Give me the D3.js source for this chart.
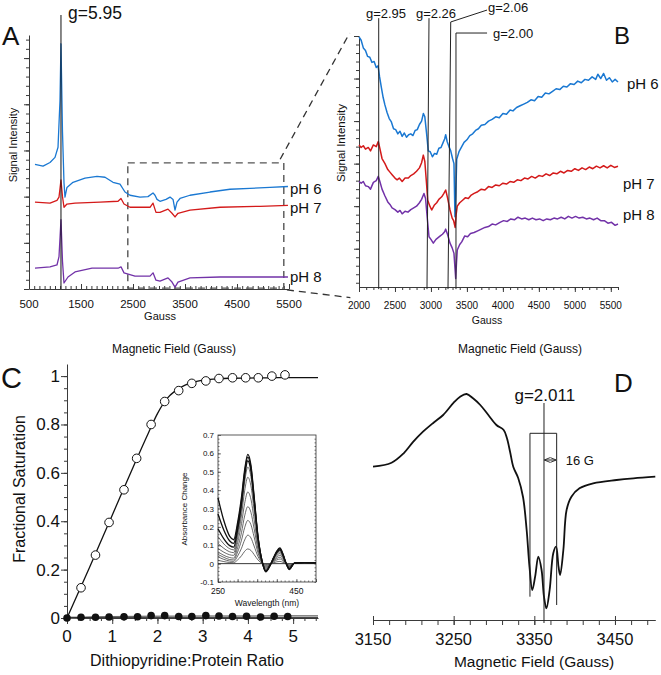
<!DOCTYPE html>
<html><head><meta charset="utf-8">
<script src="https://cdn.jsdelivr.net/npm/d3@7"></script>
<style>body{margin:0;background:#fff} svg{display:block}</style>
</head><body><svg id="chart" width="661" height="675"></svg>
<script>
// ================= DATA =================
// Panel A: EPR spectra, full sweep (Gauss, arbitrary signal units)
const A_field_pH6 = [615,770,904,1000,1058,1096,1115,1144,1173,1192,1230,1346,1577,1808,1962,2115,2250,2346,2442,2635,2788,2885,2923,2962,3019,3135,3212,3270,3308,3346,3404,3596,3981,4365,4750,5135,5480];
const A_sig_pH6   = [2.70,2.66,2.74,2.85,3.07,4.08,5.31,3.4,2.3,1.99,2.2,2.31,2.40,2.44,2.42,2.31,2.27,2.1,2.03,1.99,2.0,2.08,2.03,1.94,1.90,1.94,1.99,1.94,1.71,1.88,1.96,2.03,2.10,2.16,2.18,2.2,2.22];
const A_field_pH7 = [615,904,1038,1077,1115,1144,1173,1230,1385,1865,2212,2269,2327,2442,2827,2885,2942,3019,3173,3250,3308,3365,3596,4173,4942,5480];
const A_sig_pH7   = [1.88,1.86,1.92,1.99,2.36,2.0,1.77,1.84,1.86,1.88,1.90,1.96,1.84,1.77,1.77,1.86,1.66,1.66,1.73,1.64,1.56,1.64,1.71,1.77,1.79,1.81];
const A_field_pH8 = [615,904,1038,1077,1115,1144,1173,1250,1385,1712,2212,2269,2327,2538,2827,2885,2942,3019,3173,3250,3308,3365,3596,4173,4942,5480];
const A_sig_pH8   = [0.45,0.48,0.52,0.70,1.50,0.6,0.13,0.26,0.37,0.45,0.45,0.48,0.35,0.28,0.28,0.35,0.19,0.17,0.24,0.15,0.04,0.15,0.24,0.26,0.26,0.26];
const A_xticks = [500,1500,2500,3500,4500,5500];

// Panel B: expanded region, [Gauss, signal] readings
const B_pH6 = [[2000,4.98],[2030,4.90],[2060,4.72],[2090,4.66],[2120,4.52],[2150,4.50],[2180,4.38],[2210,4.40],[2240,4.26],[2265,4.30],[2285,4.05],[2310,3.80],[2335,3.56],[2360,3.38],[2390,3.20],[2420,3.06],[2450,2.98],[2480,2.82],[2510,2.80],[2540,2.70],[2570,2.76],[2600,2.64],[2630,2.72],[2660,2.62],[2690,2.68],[2720,2.70],[2750,2.66],[2780,2.78],[2810,2.80],[2840,2.92],[2870,3.00],[2895,3.18],[2915,3.10],[2940,2.70],[2963,2.30],[2990,2.28],[3020,2.16],[3050,2.24],[3080,2.22],[3110,2.36],[3140,2.38],[3170,2.50],[3190,2.58],[3205,2.68],[3225,2.52],[3250,2.40],[3275,2.30],[3300,2.12],[3320,2.00],[3334,0.75],[3345,1.25],[3358,2.10],[3390,2.28],[3428,2.40],[3460,2.50],[3500,2.56],[3540,2.66],[3580,2.70],[3620,2.78],[3660,2.82],[3700,2.90],[3750,2.92],[3800,3.00],[3850,3.04],[3900,3.10],[3950,3.08],[4000,3.18],[4050,3.16],[4100,3.26],[4140,3.24],[4190,3.32],[4240,3.36],[4290,3.40],[4340,3.44],[4390,3.50],[4440,3.48],[4490,3.58],[4540,3.56],[4590,3.66],[4640,3.64],[4690,3.70],[4740,3.76],[4790,3.74],[4840,3.82],[4890,3.80],[4940,3.88],[4990,3.86],[5040,3.94],[5090,3.90],[5140,3.98],[5190,3.96],[5240,4.04],[5290,3.98],[5320,4.10],[5360,4.00],[5400,4.12],[5440,3.96],[5480,4.02],[5520,3.92],[5560,3.98],[5600,3.92]];
const B_pH7 = [[2000,2.44],[2030,2.38],[2060,2.42],[2090,2.34],[2129,2.38],[2160,2.30],[2200,2.44],[2240,2.40],[2268,2.52],[2290,2.36],[2320,2.12],[2361,2.00],[2400,1.86],[2430,1.80],[2460,1.74],[2500,1.66],[2530,1.62],[2560,1.66],[2600,1.58],[2640,1.66],[2686,1.66],[2720,1.72],[2760,1.76],[2800,1.82],[2840,1.90],[2870,2.02],[2894,2.20],[2915,2.05],[2940,1.50],[2955,1.14],[2985,1.00],[3011,0.91],[3045,1.02],[3080,1.08],[3110,1.16],[3150,1.22],[3180,1.30],[3205,1.38],[3230,1.20],[3265,0.91],[3295,0.72],[3315,0.66],[3336,0.50],[3350,0.80],[3366,1.00],[3400,1.08],[3440,1.14],[3480,1.20],[3520,1.18],[3560,1.26],[3600,1.30],[3650,1.34],[3700,1.40],[3750,1.38],[3800,1.46],[3850,1.44],[3900,1.50],[3950,1.48],[4000,1.54],[4050,1.52],[4100,1.58],[4150,1.56],[4200,1.62],[4250,1.60],[4300,1.66],[4350,1.64],[4400,1.70],[4450,1.66],[4500,1.72],[4550,1.70],[4600,1.76],[4650,1.72],[4700,1.78],[4750,1.76],[4800,1.82],[4850,1.78],[4900,1.84],[4950,1.82],[5000,1.88],[5050,1.84],[5100,1.90],[5150,1.86],[5200,1.92],[5250,1.88],[5300,1.94],[5350,1.90],[5400,1.95],[5450,1.90],[5500,1.96],[5550,1.91],[5600,1.94]];
const B_pH8 = [[2000,1.58],[2030,1.54],[2060,1.58],[2090,1.48],[2129,1.46],[2160,1.40],[2200,1.56],[2240,1.60],[2268,1.70],[2290,1.58],[2320,1.40],[2361,1.24],[2400,1.10],[2430,1.04],[2460,0.96],[2500,0.92],[2540,0.86],[2570,0.90],[2600,0.82],[2640,0.88],[2680,0.86],[2720,0.92],[2760,0.96],[2800,1.00],[2840,1.08],[2870,1.16],[2903,1.30],[2925,1.18],[2950,0.70],[2973,0.28],[3000,0.22],[3033,0.13],[3070,0.22],[3100,0.26],[3130,0.30],[3160,0.34],[3190,0.40],[3205,0.46],[3230,0.34],[3265,0.13],[3295,0.02],[3320,-0.11],[3344,-0.70],[3356,-0.30],[3366,-0.03],[3400,0.10],[3428,0.16],[3470,0.30],[3510,0.28],[3550,0.36],[3600,0.38],[3650,0.42],[3700,0.46],[3750,0.50],[3800,0.52],[3850,0.58],[3900,0.56],[3960,0.62],[4010,0.66],[4060,0.64],[4110,0.70],[4160,0.68],[4210,0.74],[4260,0.70],[4310,0.72],[4360,0.68],[4410,0.72],[4460,0.68],[4510,0.70],[4560,0.66],[4610,0.70],[4660,0.68],[4710,0.72],[4760,0.70],[4810,0.74],[4860,0.70],[4910,0.76],[4960,0.72],[5010,0.76],[5060,0.72],[5110,0.74],[5160,0.70],[5210,0.72],[5260,0.68],[5310,0.72],[5360,0.66],[5410,0.66],[5460,0.60],[5510,0.62],[5560,0.55],[5600,0.58]];
const B_xticks = [2000,2500,3000,3500,4000,4500,5000,5500];
const B_gLabels = ["g=2.95","g=2.26","g=2.06","g=2.00"];
const B_gTop    = [2274,2973,3275,3348];
const B_gBottom = [2274,2945,3237,3348];

// Panel C: titration
const C_open_x = [0.31,0.63,0.93,1.26,1.54,1.86,2.16,2.47,2.76,3.07,3.36,3.66,3.95,4.23,4.53,4.82];
const C_open_y = [0.125,0.26,0.395,0.53,0.66,0.80,0.895,0.94,0.97,0.98,0.99,0.993,0.993,0.993,1.0,1.005];
const C_fit_x  = [0,0.5,1,1.5,1.8,2.0,2.2,2.4,2.6,2.8,3.0,3.3,3.6,4.0,4.5,5.0,5.55];
const C_fit_y  = [0,0.21,0.425,0.64,0.765,0.845,0.905,0.94,0.962,0.975,0.983,0.988,0.991,0.992,0.993,0.994,0.994];
const C_fill_x = [0,0.31,0.63,0.93,1.26,1.56,1.86,2.16,2.47,2.76,3.07,3.36,3.66,3.97,4.28,4.58,4.88];
const C_fill_y = [0,0.003,0.003,0.004,0.005,0.005,0.01,0.01,0.006,0.006,0.01,0.008,0.006,0.007,0.004,0.007,0.006];
const C_fit2_x = [0,0.5,1,2,3,4,5,5.55];
const C_fit2_y = [0,0.004,0.006,0.008,0.009,0.009,0.01,0.01];
const C_xticks = [0,1,2,3,4,5];
const C_yticks = [0,0.2,0.4,0.6,0.8,1];

// Inset: absorbance-change spectra
const I_wl = [250,265,280,290,300,310,318,326,334,342,352,362,372,382,392,400,408,416,424,432,445,470,500];
const I_spectra = [
  [0.018,0.011,0.006,0.005,0.020,0.043,0.067,0.080,0.072,0.050,0.020,0.002,-0.005,-0.002,0.005,0.010,0.012,0.007,0,-0.003,0.002,0.003,0.003],
  [0.037,0.023,0.014,0.012,0.041,0.084,0.129,0.155,0.140,0.096,0.039,0.005,-0.010,-0.003,0.010,0.020,0.025,0.015,0,-0.008,0.002,0.004,0.003],
  [0.050,0.034,0.022,0.020,0.063,0.128,0.196,0.235,0.212,0.146,0.059,0.007,-0.015,-0.005,0.014,0.028,0.035,0.021,0,-0.012,0.003,0.004,0.004],
  [0.064,0.045,0.033,0.030,0.086,0.170,0.260,0.310,0.279,0.192,0.078,0.009,-0.020,-0.006,0.018,0.036,0.045,0.027,0,-0.015,0.003,0.005,0.004],
  [0.083,0.062,0.048,0.045,0.114,0.218,0.328,0.390,0.351,0.242,0.098,0.012,-0.025,-0.008,0.022,0.044,0.055,0.033,0,-0.018,0.003,0.005,0.004],
  [0.110,0.083,0.064,0.060,0.142,0.265,0.396,0.470,0.423,0.291,0.118,0.014,-0.030,-0.009,0.025,0.050,0.063,0.038,0,-0.022,0.003,0.005,0.004],
  [0.147,0.107,0.081,0.075,0.165,0.300,0.444,0.525,0.473,0.326,0.131,0.016,-0.035,-0.011,0.028,0.056,0.070,0.042,0,-0.025,0.003,0.005,0.004],
  [0.190,0.135,0.098,0.090,0.184,0.325,0.475,0.560,0.504,0.347,0.140,0.017,-0.040,-0.012,0.030,0.060,0.075,0.045,0,-0.027,0.003,0.005,0.004],
  [0.270,0.182,0.123,0.110,0.204,0.345,0.495,0.580,0.522,0.360,0.145,0.017,-0.042,-0.013,0.032,0.064,0.080,0.048,0,-0.030,0.003,0.005,0.004],
  [0.358,0.233,0.148,0.130,0.223,0.363,0.511,0.595,0.536,0.369,0.149,0.018,-0.045,-0.014,0.034,0.068,0.085,0.051,0,-0.032,0.003,0.005,0.004]
];
const I_yticks = [-0.1,0,0.1,0.2,0.3,0.4,0.5,0.6,0.7];
const I_xticks = [250,450];

// Panel D: high-resolution spectrum
const D_field = [3150,3173,3188,3200,3212,3225,3237,3250,3258,3266,3274,3283,3293,3303,3312,3316,3320,3324,3330,3336,3340.5,3344,3347.5,3351,3355,3359,3362,3365,3369,3373.5,3377,3380,3382,3386,3390,3396,3406,3423,3452,3473,3500];
const D_sig   = [15.33,15.73,16.67,17.83,18.83,19.73,20.5,21.73,22.33,22.6,22.17,21.5,20.5,19.5,19.0,18.2,16.8,15.3,14.2,12.3,9.0,5.33,3.0,4.33,6.33,5.0,2.33,1.17,3.0,6.67,7.33,5.33,4.5,7.0,11.0,12.33,13.17,13.67,14.0,14.17,14.33];
const D_xticks = [3150,3250,3350,3450];

// ================= DRAWING =================
const svg = d3.select("#chart");
const FONT = 'Arial, "Liberation Sans", Helvetica, sans-serif';
const COL = {pH6:"#1a78d2", pH7:"#d41a1a", pH8:"#7232a8"};
const AX = "#3a3a3a";

function pathPts(g, pts, sx, sy, o) {
  const gen = d3.line().x(d=>sx(d[0])).y(d=>sy(d[1])).curve(o.curve || d3.curveLinear);
  return g.append("path").attr("d", gen(pts)).attr("fill","none")
    .attr("stroke", o.color).attr("stroke-width", o.width || 1)
    .attr("stroke-linejoin","round").attr("stroke-dasharray", o.dash || null);
}
function path(g, xs, ys, sx, sy, o) { return pathPts(g, xs.map((x,i)=>[x, ys[i]]), sx, sy, o); }
function txt(g, x, y, s, size, o) {
  o = o || {};
  const t = g.append("text").attr("x", x).attr("y", y).text(s)
    .style("font-family", FONT).style("font-size", size + "px")
    .attr("fill", o.color || "#111").attr("text-anchor", o.anchor || "start");
  if (o.rotate) t.attr("transform", `rotate(${o.rotate},${x},${y})`);
  return t;
}
function seg(g, x1, y1, x2, y2, o) {
  o = o || {};
  return g.append("line").attr("x1",x1).attr("y1",y1).attr("x2",x2).attr("y2",y2)
    .attr("stroke", o.color || AX).attr("stroke-width", o.width || 1)
    .attr("stroke-dasharray", o.dash || null);
}
function ticks(g, axisFn, vals, size, noDomain) {
  const a = g.append("g").call(axisFn.tickValues(vals).tickSize(size).tickSizeOuter(0).tickFormat(""));
  a.selectAll("line").attr("stroke", AX);
  a.select(".domain").attr("stroke", AX);
  if (noDomain) a.select(".domain").remove();
  return a;
}

// ---------- Panel A ----------
const xA = d3.scaleLinear().domain([500,5500]).range([29,289]);
const yA = d3.scaleLinear().domain([0,5.5]).range([289,35]);
const gA = svg.append("g");
ticks(gA.append("g").attr("transform",`translate(${xA(500)},0)`), d3.axisLeft(yA), d3.range(0,5.51,1), 5, false);
ticks(gA.append("g").attr("transform",`translate(${xA(500)},0)`), d3.axisLeft(yA), d3.range(0,5.5,0.2), 3, true);
ticks(gA.append("g").attr("transform",`translate(0,${yA(0)})`), d3.axisTop(xA), A_xticks, 5, false);
ticks(gA.append("g").attr("transform",`translate(0,${yA(0)})`), d3.axisTop(xA), d3.range(500,5501,100), 3, true);
A_xticks.forEach(v => txt(gA, xA(v), 308, v, 11.5, {anchor:"middle"}));
txt(gA, 160, 320, "Gauss", 11, {anchor:"middle"});
txt(gA, 17, 145, "Signal Intensity", 11, {anchor:"middle", rotate:-90});

gA.append("rect").attr("x", xA(2400)).attr("y", yA(2.73)).attr("width", xA(5400)-xA(2400)).attr("height", yA(0.02)-yA(2.73))
  .attr("fill","none").attr("stroke","#555").attr("stroke-width",1.4).attr("stroke-dasharray","7,5");

path(gA, A_field_pH6, A_sig_pH6, xA, yA, {color:COL.pH6, width:1.3});
path(gA, A_field_pH7, A_sig_pH7, xA, yA, {color:COL.pH7, width:1.3});
path(gA, A_field_pH8, A_sig_pH8, xA, yA, {color:COL.pH8, width:1.3});
seg(gA, xA(1115), 15, xA(1115), yA(0), {color:"#111", width:1});
txt(gA, 68, 19, "g=5.95", 17.5);
txt(gA, 290, 194, "pH 6", 15);
txt(gA, 290, 213, "pH 7", 15);
txt(gA, 290, 282, "pH 8", 15);
txt(gA, 2, 45, "A", 26);
txt(gA, 174, 353, "Magnetic Field (Gauss)", 12, {anchor:"middle"});

// ---------- Panel B ----------
const xB = d3.scaleLinear().domain([2000,5600]).range([359,618]);
const yB = d3.scaleLinear().domain([-0.9,5.0]).range([287,36]);
const gB = svg.append("g");
ticks(gB.append("g").attr("transform",`translate(${xB(2000)},0)`), d3.axisLeft(yB), d3.range(0,5.01,1), 5, false);
ticks(gB.append("g").attr("transform",`translate(${xB(2000)},0)`), d3.axisLeft(yB), d3.range(-0.8,5.0,0.2), 3, true);
ticks(gB.append("g").attr("transform",`translate(0,${yB(-0.9)})`), d3.axisBottom(xB), B_xticks, 5, false);
ticks(gB.append("g").attr("transform",`translate(0,${yB(-0.9)})`), d3.axisBottom(xB), d3.range(2000,5601,100), 3, true);
B_xticks.forEach(v => txt(gB, xB(v), 309, v, 10, {anchor:"middle"}));
txt(gB, 487, 324, "Gauss", 10.5, {anchor:"middle"});
txt(gB, 345, 143, "Signal Intensity", 11.5, {anchor:"middle", rotate:-90});

pathPts(gB, B_pH6, xB, yB, {color:COL.pH6, width:1.5});
pathPts(gB, B_pH7, xB, yB, {color:COL.pH7, width:1.5});
pathPts(gB, B_pH8, xB, yB, {color:COL.pH8, width:1.5});

const lineTop = [5.42,5.42,5.33,5.07];
B_gLabels.forEach((d,i) => seg(gB, xB(B_gBottom[i]), yB(-0.95), xB(B_gTop[i]), yB(lineTop[i]), {color:"#222", width:1}));
seg(gB, xB(3275), yB(5.33), xB(3780), yB(5.61), {color:"#222", width:1});
seg(gB, xB(3348), yB(5.07), xB(3780), yB(5.07), {color:"#222", width:1});
txt(gB, xB(2375), 17.5, B_gLabels[0], 13, {anchor:"middle"});
txt(gB, xB(3070), 17.5, B_gLabels[1], 13, {anchor:"middle"});
txt(gB, 488, 12, B_gLabels[2], 13);
txt(gB, 493, 38, B_gLabels[3], 13);
txt(gB, 627, 89, "pH 6", 15);
txt(gB, 623, 189, "pH 7", 15);
txt(gB, 623, 220, "pH 8", 15);
txt(gB, 614, 44, "B", 24);
txt(gB, 520, 353, "Magnetic Field (Gauss)", 12, {anchor:"middle"});

seg(svg, xA(5330), yA(2.81), xB(1870), yB(5.07), {color:"#333", width:1.3, dash:"7,5"});
seg(svg, xA(5460), yA(-0.02), xB(1880), yB(-1.15), {color:"#333", width:1.3, dash:"7,5"});

// ---------- Panel C ----------
const xC = d3.scaleLinear().domain([0,5.55]).range([67,318]);
const yC = d3.scaleLinear().domain([0,1.05]).range([618,364]);
const gC = svg.append("g");
ticks(gC.append("g").attr("transform",`translate(${xC(0)},0)`), d3.axisLeft(yC), C_yticks, 6, false);
ticks(gC.append("g").attr("transform",`translate(${xC(0)},0)`), d3.axisLeft(yC), d3.range(0,1.05,0.05), 3, true);
ticks(gC.append("g").attr("transform",`translate(0,${yC(0)})`), d3.axisBottom(xC), C_xticks, 6, false);
ticks(gC.append("g").attr("transform",`translate(0,${yC(0)})`), d3.axisBottom(xC), d3.range(0,5.55,0.25), 3, true);
C_yticks.forEach(v => txt(gC, 60, yC(v)+6, v===0?"0":(v===1?"1":v.toFixed(1)), 17, {anchor:"end"}));
C_xticks.forEach(v => txt(gC, xC(v), 642, v, 17, {anchor:"middle"}));
txt(gC, 25, 489, "Fractional Saturation", 16, {anchor:"middle", rotate:-90});
txt(gC, 187, 666, "Dithiopyridine:Protein Ratio", 16, {anchor:"middle"});
txt(gC, 1, 388, "C", 29);

path(gC, C_fit_x, C_fit_y, xC, yC, {color:"#111", width:1.3, curve:d3.curveMonotoneX});
path(gC, C_fit2_x, C_fit2_y, xC, yC, {color:"#888", width:1.2, curve:d3.curveMonotoneX});
seg(gC, xC(0), yC(0.003), xC(5.55), yC(0.003), {color:"#111", width:1});
gC.selectAll("circle.o").data(C_open_x).join("circle").attr("class","o")
  .attr("cx", d=>xC(d)).attr("cy", (d,i)=>yC(C_open_y[i])).attr("r",4.3)
  .attr("fill","white").attr("stroke","#111").attr("stroke-width",1);
gC.selectAll("circle.f").data(C_fill_x).join("circle").attr("class","f")
  .attr("cx", d=>xC(d)).attr("cy", (d,i)=>yC(C_fill_y[i])).attr("r",3.8).attr("fill","#111");

// inset
const xI = d3.scaleLinear().domain([250,500]).range([218,316]);
const yI = d3.scaleLinear().domain([-0.1,0.7]).range([582,435]);
const gI = svg.append("g");
gI.append("rect").attr("x", xI(250)).attr("y", yI(0.7)).attr("width", xI(500)-xI(250)).attr("height", yI(-0.1)-yI(0.7))
  .attr("fill","white").attr("stroke","#333").attr("stroke-width",0.8);
ticks(gI.append("g").attr("transform",`translate(${xI(250)},0)`), d3.axisLeft(yI), I_yticks, -3, true);
ticks(gI.append("g").attr("transform",`translate(${xI(250)},0)`), d3.axisLeft(yI), d3.range(-0.1,0.7,0.02), -1.5, true);
ticks(gI.append("g").attr("transform",`translate(${xI(500)},0)`), d3.axisRight(yI), d3.range(-0.1,0.7,0.02), -1.5, true);
ticks(gI.append("g").attr("transform",`translate(0,${yI(-0.1)})`), d3.axisBottom(xI), d3.range(250,501,50), -3, true);
ticks(gI.append("g").attr("transform",`translate(0,${yI(-0.1)})`), d3.axisBottom(xI), d3.range(250,501,10), -1.5, true);
gI.selectAll("line").attr("stroke-width",0.7);
I_yticks.forEach(v => txt(gI, 214, yI(v)+3, v===0?"0":v.toFixed(1), 8, {anchor:"end"}));
I_xticks.forEach(v => txt(gI, xI(v), 594, v, 8.5, {anchor:"middle"}));
txt(gI, 187, 509, "Absorbance Change", 8, {anchor:"middle", rotate:-90});
txt(gI, 267, 606, "Wavelength (nm)", 8.5, {anchor:"middle"});
seg(gI, xI(250), yI(0), xI(500), yI(0), {color:"#222", width:0.9});
I_spectra.forEach((s,k) => path(gI, I_wl, s, xI, yI, {color: k>=7 ? "#111" : "#444", width: k>=7 ? 1.3 : 0.8, curve:d3.curveMonotoneX}));

// ---------- Panel D ----------
const xD = d3.scaleLinear().domain([3150,3500]).range([373,655.3]);
const yD = d3.scaleLinear().domain([0,25]).range([620,370]);
const gD = svg.append("g");
ticks(gD.append("g").attr("transform",`translate(0,${yD(0)})`), d3.axisBottom(xD), D_xticks, 5, false);
ticks(gD.append("g").attr("transform",`translate(0,${yD(0)})`), d3.axisTop(xD), D_xticks, 4, true);
ticks(gD.append("g").attr("transform",`translate(0,${yD(0)})`), d3.axisBottom(xD), d3.range(3150,3501,20), 5, true);
D_xticks.forEach(v => txt(gD, xD(v), 645, v, 16.5, {anchor:"middle"}));
txt(gD, 534, 667, "Magnetic Field (Gauss)", 15.5, {anchor:"middle"});
txt(gD, 614, 392, "D", 26);

path(gD, D_field, D_sig, xD, yD, {color:"#111", width:1.8, curve:d3.curveCatmullRom.alpha(0.5)});
seg(gD, xD(3362), yD(21.7), xD(3362), yD(-0.3), {color:"#222", width:1});
seg(gD, xD(3344.6), yD(18.67), xD(3377.7), yD(18.67), {color:"#222", width:1});
seg(gD, xD(3344.6), yD(18.67), xD(3344.6), yD(2.33), {color:"#222", width:1});
seg(gD, xD(3377.7), yD(18.67), xD(3377.7), yD(1.5), {color:"#222", width:1});
const defs = svg.append("defs");
defs.append("marker").attr("id","ah").attr("viewBox","0 0 10 10").attr("refX",9).attr("refY",5)
  .attr("markerWidth",6).attr("markerHeight",6).attr("orient","auto-start-reverse")
  .append("path").attr("d","M0,1 L10,5 L0,9").attr("fill","none").attr("stroke","#222").attr("stroke-width",1.5);
seg(gD, xD(3363), yD(16), xD(3376.5), yD(16), {color:"#222", width:1})
  .attr("marker-start","url(#ah)").attr("marker-end","url(#ah)");
txt(gD, xD(3389), 465, "16 G", 13);
txt(gD, xD(3363), 401, "g=2.011", 17, {anchor:"middle"});
</script></body></html>
